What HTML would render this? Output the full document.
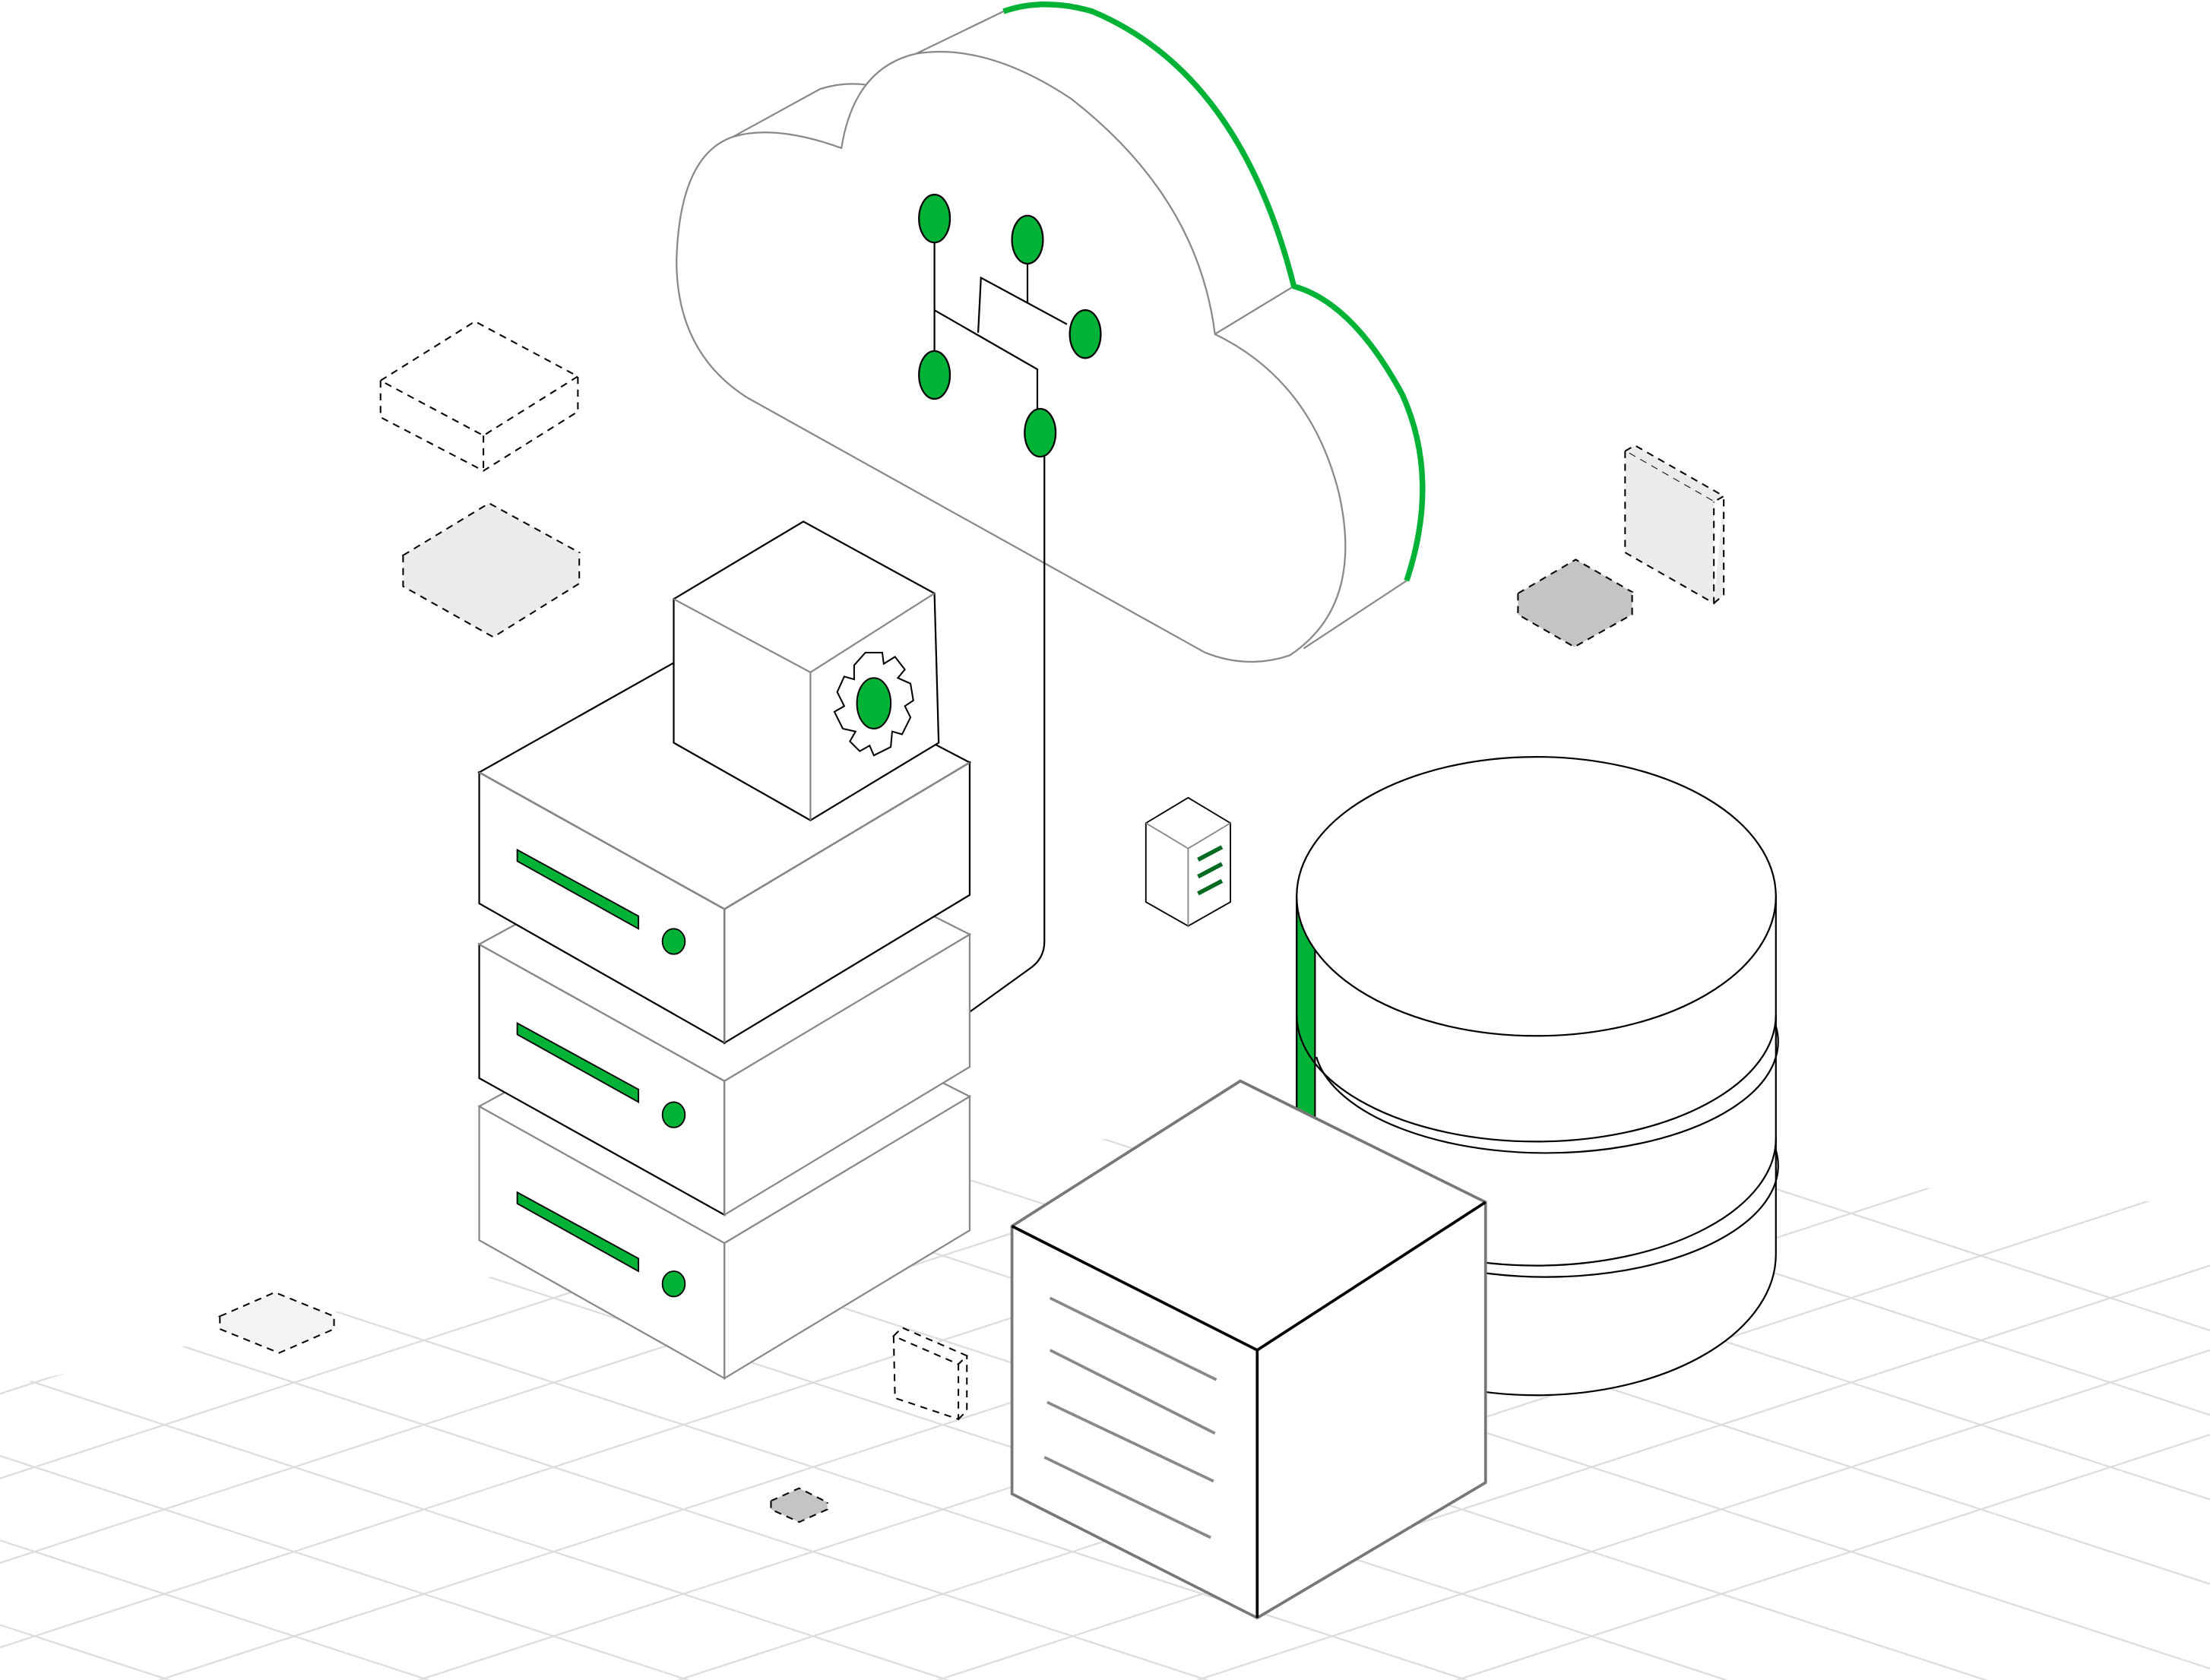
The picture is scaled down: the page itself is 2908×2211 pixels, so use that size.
<!DOCTYPE html>
<html><head><meta charset="utf-8"><style>
html,body{margin:0;padding:0;background:#fff;overflow:hidden;width:2908px;height:2211px;}
svg{display:block;}
</style></head><body>
<svg width="2908" height="2211" viewBox="0 0 1568 1192" xmlns="http://www.w3.org/2000/svg">
<defs>
<clipPath id="gc"><polygon points="0,985 780,808 1568,855 1568,1192 0,1192"/></clipPath>
</defs>
<g clip-path="url(#gc)" stroke="#dcdcdc" stroke-width="1.2">
<line x1="0" y1="433" x2="1568" y2="944"/><line x1="0" y1="493" x2="1568" y2="1004"/>
<line x1="0" y1="553" x2="1568" y2="1064"/><line x1="0" y1="613" x2="1568" y2="1124"/>
<line x1="0" y1="673" x2="1568" y2="1184"/><line x1="0" y1="733" x2="1568" y2="1244"/>
<line x1="0" y1="793" x2="1568" y2="1304"/><line x1="0" y1="853" x2="1568" y2="1364"/>
<line x1="0" y1="913" x2="1568" y2="1424"/><line x1="0" y1="973" x2="1568" y2="1484"/>
<line x1="0" y1="1033" x2="1568" y2="1544"/><line x1="0" y1="1093" x2="1568" y2="1604"/>
<line x1="0" y1="1153" x2="1568" y2="1664"/>
<line x1="0" y1="869" x2="1568" y2="358"/><line x1="0" y1="929" x2="1568" y2="418"/>
<line x1="0" y1="989" x2="1568" y2="478"/><line x1="0" y1="1049" x2="1568" y2="538"/>
<line x1="0" y1="1109" x2="1568" y2="598"/><line x1="0" y1="1169" x2="1568" y2="658"/>
<line x1="0" y1="1229" x2="1568" y2="718"/><line x1="0" y1="1289" x2="1568" y2="778"/>
<line x1="0" y1="1349" x2="1568" y2="838"/><line x1="0" y1="1409" x2="1568" y2="898"/>
<line x1="0" y1="1469" x2="1568" y2="958"/><line x1="0" y1="1529" x2="1568" y2="1018"/>
</g>

<!-- dashed decorative boxes -->
<g stroke="#000" stroke-width="1.1" stroke-dasharray="5,4" fill="none">
<polygon points="270,270 337,228 410,267 343,309"/>
<path d="M270,270 V296 L343,334 L410,292 V267 M343,309 V334"/>
<polygon points="286,394 347,357 411,392 350,430" fill="#ebebeb"/>
<path d="M286,394 V416 L350,452 L411,414 V392" fill="#ebebeb"/>
<polygon points="1077,421 1118,397 1158,420 1117,444" fill="#c4c4c4"/>
<path d="M1077,421 V436 L1117,459 L1158,436 V420" fill="#c4c4c4"/>
<polygon points="1153,320 1160,316 1223,352 1216,356" fill="#ebebeb"/>
<path d="M1153,320 V392 L1216,428 V356 M1216,428 L1223,422 V352" fill="#ebebeb"/>
<polygon points="156,934 195,917 237,934 198,951" fill="#f3f3f3"/>
<path d="M156,934 V943 L198,960 L237,943 V934" fill="#f3f3f3"/>
<path d="M634,948 L640,942 L686,962 L680,968 Z M634,948 L635,992 L680,1007 L680,968 M680,1007 L686,1001 L686,962" fill="#fff"/>
<polygon points="547,1065 567,1056 587,1066 567,1075" fill="#c4c4c4"/>
<path d="M547,1065 V1071 L567,1080 L587,1071 V1066" fill="#c4c4c4"/>
</g>

<!-- cloud -->
<g stroke-linejoin="round">
<path d="M520,97 L582,63 Q598,58 614,60 L650,38 L712,8 Q740,-2 775,8 Q880,52 918,203 L1000,300 L998,412 L925,460 L890,470 L855,463 L530,282 Q480,250 480,185 Q482,110 520,97 Z" fill="#fff" stroke="none"/>
<path d="M520,97 L582,63 Q598,58 614,60 M650,38 L712,8 M862,237 L918,203 M998,412 L925,460" fill="none" stroke="#888" stroke-width="1.2"/>
<path d="M712,8 Q740,-2 775,8 Q880,52 918,203 Q960,215 995,280 Q1022,340 998,412" fill="none" stroke="#00b336" stroke-width="4"/>
<path d="M597,105 Q606,48 650,38 Q700,30 760,70 Q850,140 862,237 Q930,270 950,350 Q968,430 915,465 Q885,475 855,463 L530,282 Q480,250 480,185 Q482,110 520,97 Q550,88 597,105 Z" fill="#fff" stroke="#888" stroke-width="1.2"/>
</g>
<g stroke="#000" stroke-width="1.2" fill="none">
<path d="M663,172 V249 M663,220 L736,262 V290 M694,236 L696,197 L757,230 M729,187 V215"/>
<path d="M741,324 V668 Q741,680 731,687 L688,718"/>
</g>
<g fill="#00b336" stroke="#000" stroke-width="1.2">
<ellipse cx="663" cy="155" rx="11" ry="17"/><ellipse cx="729" cy="170" rx="11" ry="17"/>
<ellipse cx="770" cy="237" rx="11" ry="17"/><ellipse cx="663" cy="266" rx="11" ry="17"/>
<ellipse cx="738" cy="307" rx="11" ry="17"/>
</g>

<!-- server stack -->
<g stroke-width="1.2" fill="#fff">
<polygon points="340,785 514,882 514,978 340,880" stroke="#888"/>
<polygon points="514,882 688,778 688,873 514,978" stroke="#888"/>
<polygon points="340,785 514,690 688,778 514,882" stroke="#888"/>
<polygon points="340,670 514,767 514,862 340,765" stroke="#000"/>
<polygon points="514,767 688,663 688,757 514,862" stroke="#888"/>
<polygon points="340,670 514,575 688,663 514,767" stroke="#888"/>
<polygon points="340,548 514,645 514,740 340,641" stroke="#000"/>
<polygon points="514,645 688,541 688,635 514,740" stroke="#000"/>
<polygon points="340,548 514,450 688,541 514,645" stroke="#000"/>
<path d="M340,548 L514,645 L688,541 M514,645 V740" stroke="#888" fill="none"/>
</g>
<g fill="#00b336" stroke="#000" stroke-width="1">
<polygon points="367,603 453,650 453,659 367,611"/>
<polygon points="367,726 453,773 453,782 367,734"/>
<polygon points="367,846 453,893 453,902 367,854"/>
<ellipse cx="478" cy="668" rx="8" ry="9"/><ellipse cx="478" cy="791" rx="8" ry="9"/><ellipse cx="478" cy="911" rx="8" ry="9"/>
</g>

<!-- gear cube -->
<g stroke-width="1.2" fill="#fff">
<polygon points="478,425 570,370 663,421 666,527 575,582 478,527" stroke="#000"/>
<path d="M478,425 L575,477 L663,421 M575,477 L575,582" stroke="#888" fill="none"/>
</g>
<g transform="translate(620,499)">
<path d="M-6,-36 L6,-36 L7,-28 L15,-33 L22,-24 L17,-18 L26,-14 L28,-2 L22,2 L26,10 L20,22 L13,20 L12,31 L0,37 L-3,30 L-10,34 L-17,27 L-13,20 L-22,18 L-28,6 L-21,2 L-26,-8 L-21,-19 L-14,-17 L-14,-27 Z" fill="#fff" stroke="#000" stroke-width="1.1"/>
<ellipse cx="0" cy="0" rx="12" ry="18" fill="#00b336" stroke="#000" stroke-width="1.1"/>
</g>

<!-- small server -->
<g stroke="#000" stroke-width="1" fill="#fff">
<polygon points="813,584 843,566 873,584 873,640 843,657 813,640"/>
<path d="M813,584 L843,602 L873,584 M843,602 V657" stroke="#888" fill="none"/>
<path d="M850,610 L867,601 M850,622 L867,613 M850,634 L867,625" stroke="#006b20" stroke-width="3"/>
</g>

<!-- database -->
<g stroke="#000" stroke-width="1.2" fill="#fff">
<path d="M920,636 V890 A170,100 0 0 0 1260,890 V636 Z"/>
<rect x="920" y="636" width="13" height="160" fill="#00b336" stroke="#000"/>
<path d="M920,720 A170,90 0 0 0 1260,720" fill="none"/>
<path d="M934,750 A156,75 0 0 0 1260,728" fill="none"/>
<path d="M920,808 A170,90 0 0 0 1260,808" fill="none"/>
<path d="M934,838 A156,75 0 0 0 1260,816" fill="none"/>
<ellipse cx="1090" cy="636" rx="170" ry="99"/>
</g>

<!-- big cube -->
<g stroke-width="2" fill="#fff">
<polygon points="718,870 880,767 1054,853 1054,1052 892,1148 718,1060" stroke="#777"/>
<path d="M718,870 L892,958 L1054,853 M892,958 V1148" stroke="#000" fill="none"/>
<path d="M745,921 L863,979 M745,958 L862,1017 M743,995 L861,1051 M741,1034 L859,1091" stroke="#888"/>
</g>
</svg>
</body></html>
